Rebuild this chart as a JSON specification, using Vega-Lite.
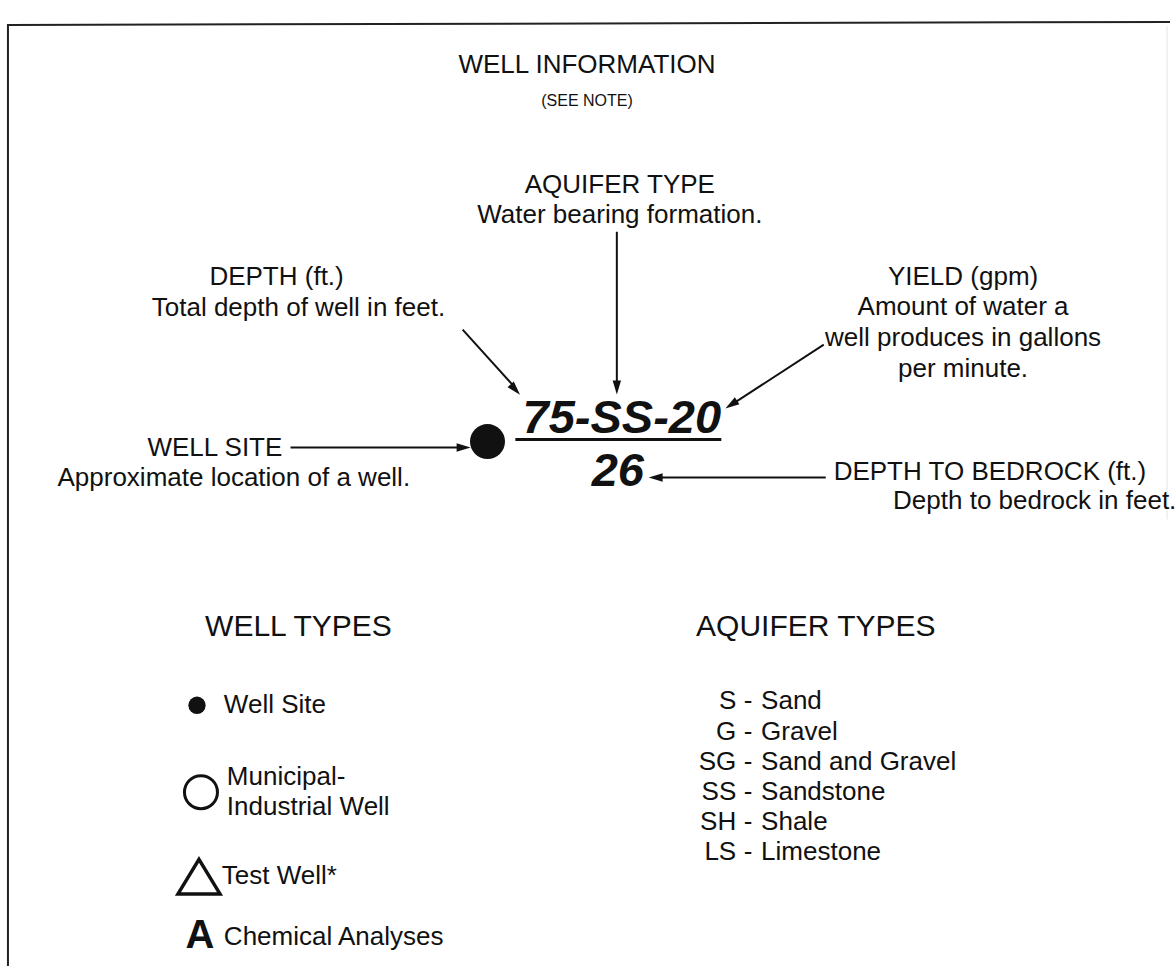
{
  "$schema": "https://vega.github.io/schema/vega-lite/v6.json",
  "width": 1176,
  "height": 967,
  "autosize": {"type": "fit", "contains": "padding"},
  "padding": 0,
  "background": "white",
  "config": {"view": {"stroke": null}},
  "datasets": {
    "border": [
      {"x": 8, "y": 25, "x2": 1176, "y2": 22},
      {"x": 8, "y": 24, "x2": 8, "y2": 967}
    ],
    "faint": [
      {"x": 1173, "y": 26, "x2": 1173, "y2": 520}
    ],
    "arrows": [
      {"x": 620, "y": 232, "x2": 620, "y2": 383},
      {"x": 465, "y": 330, "x2": 515, "y2": 385},
      {"x": 828, "y": 345, "x2": 740, "y2": 402},
      {"x": 292, "y": 448, "x2": 462, "y2": 448},
      {"x": 664, "y": 478, "x2": 830, "y2": 478}
    ],
    "underline": [
      {"x": 518, "y": 440, "x2": 725, "y2": 440}
    ],
    "heads": [
      {"x": 620, "y": 388, "a": 180},
      {"x": 518, "y": 390, "a": 138},
      {"x": 735, "y": 405, "a": 237},
      {"x": 466, "y": 448, "a": 90},
      {"x": 659, "y": 478, "a": 270}
    ],
    "titles": [
      {"x": 590, "y": 65, "t": "WELL INFORMATION"}
    ],
    "sections": [
      {"x": 300, "y": 628, "t": "WELL TYPES"},
      {"x": 820, "y": 628, "t": "AQUIFER TYPES"}
    ],
    "note": [
      {"x": 590, "y": 101, "t": "(SEE NOTE)"}
    ],
    "center": [
      {"x": 623, "y": 185, "t": "AQUIFER TYPE"},
      {"x": 623, "y": 215, "t": "Water bearing formation."},
      {"x": 278, "y": 277, "t": "DEPTH (ft.)"},
      {"x": 300, "y": 308, "t": "Total depth of well in feet."},
      {"x": 968, "y": 277, "t": "YIELD (gpm)"},
      {"x": 968, "y": 307, "t": "Amount of water a"},
      {"x": 968, "y": 338, "t": "well produces in gallons"},
      {"x": 968, "y": 369, "t": "per minute."},
      {"x": 216, "y": 448, "t": "WELL SITE"},
      {"x": 235, "y": 478, "t": "Approximate location of a well."},
      {"x": 995, "y": 472, "t": "DEPTH TO BEDROCK (ft.)"},
      {"x": 1040, "y": 502, "t": "Depth to bedrock in feet."}
    ],
    "big": [
      {"x": 625, "y": 419, "t": "75-SS-20"},
      {"x": 621, "y": 472, "t": "26"}
    ],
    "legendText": [
      {"x": 225, "y": 706, "t": "Well Site"},
      {"x": 228, "y": 778, "t": "Municipal-"},
      {"x": 228, "y": 808, "t": "Industrial Well"},
      {"x": 223, "y": 877, "t": "Test Well*"},
      {"x": 225, "y": 938, "t": "Chemical Analyses"}
    ],
    "codes": [
      {"x": 740, "y": 702, "t": "S"},
      {"x": 740, "y": 733, "t": "G"},
      {"x": 740, "y": 763, "t": "SG"},
      {"x": 740, "y": 793, "t": "SS"},
      {"x": 740, "y": 823, "t": "SH"},
      {"x": 740, "y": 853, "t": "LS"}
    ],
    "dashes": [
      {"x": 752, "y": 702, "t": "-"},
      {"x": 752, "y": 733, "t": "-"},
      {"x": 752, "y": 763, "t": "-"},
      {"x": 752, "y": 793, "t": "-"},
      {"x": 752, "y": 823, "t": "-"},
      {"x": 752, "y": 853, "t": "-"}
    ],
    "names": [
      {"x": 765, "y": 702, "t": "Sand"},
      {"x": 765, "y": 733, "t": "Gravel"},
      {"x": 765, "y": 763, "t": "Sand and Gravel"},
      {"x": 765, "y": 793, "t": "Sandstone"},
      {"x": 765, "y": 823, "t": "Shale"},
      {"x": 765, "y": 853, "t": "Limestone"}
    ],
    "bigDot": [{"x": 490, "y": 442}],
    "smallDot": [{"x": 198, "y": 706}],
    "ring": [{"x": 202, "y": 793}],
    "tri": [{"x": 200, "y": 877}],
    "letterA": [{"x": 201, "y": 937, "t": "A"}]
  },
  "encoding": {
    "x": {"field": "x", "type": "quantitative", "scale": {"domain": [0, 1176], "nice": false, "zero": false}, "axis": null},
    "y": {"field": "y", "type": "quantitative", "scale": {"domain": [0, 967], "nice": false, "zero": false, "reverse": true}, "axis": null}
  },
  "layer": [
    {
      "data": {"name": "border"},
      "mark": {"type": "rule", "strokeWidth": 2, "color": "#222"},
      "encoding": {"x2": {"field": "x2"}, "y2": {"field": "y2"}}
    },
    {
      "data": {"name": "faint"},
      "mark": {"type": "rule", "strokeWidth": 1, "color": "#e4e4e4"},
      "encoding": {"x2": {"field": "x2"}, "y2": {"field": "y2"}}
    },
    {
      "data": {"name": "arrows"},
      "mark": {"type": "rule", "strokeWidth": 2, "color": "#111"},
      "encoding": {"x2": {"field": "x2"}, "y2": {"field": "y2"}}
    },
    {
      "data": {"name": "underline"},
      "mark": {"type": "rule", "strokeWidth": 3, "color": "#111"},
      "encoding": {"x2": {"field": "x2"}, "y2": {"field": "y2"}}
    },
    {
      "data": {"name": "heads"},
      "mark": {"type": "point", "shape": "M0,-1L0.6,1L-0.6,1Z", "filled": true, "size": 196, "color": "#111", "opacity": 1},
      "encoding": {"angle": {"field": "a", "type": "quantitative", "scale": null}}
    },
    {
      "data": {"name": "titles"},
      "mark": {"type": "text", "font": "Liberation Sans", "fontSize": 26, "color": "#111", "align": "center", "baseline": "middle"},
      "encoding": {"text": {"field": "t"}}
    },
    {
      "data": {"name": "sections"},
      "mark": {"type": "text", "font": "Liberation Sans", "fontSize": 30, "color": "#111", "align": "center", "baseline": "middle"},
      "encoding": {"text": {"field": "t"}}
    },
    {
      "data": {"name": "note"},
      "mark": {"type": "text", "font": "Liberation Sans", "fontSize": 16, "color": "#111", "align": "center", "baseline": "middle"},
      "encoding": {"text": {"field": "t"}}
    },
    {
      "data": {"name": "center"},
      "mark": {"type": "text", "font": "Liberation Sans", "fontSize": 26, "color": "#111", "align": "center", "baseline": "middle"},
      "encoding": {"text": {"field": "t"}}
    },
    {
      "data": {"name": "big"},
      "mark": {"type": "text", "font": "Liberation Sans", "fontSize": 47, "fontWeight": "bold", "fontStyle": "italic", "color": "#111", "align": "center", "baseline": "middle"},
      "encoding": {"text": {"field": "t"}}
    },
    {
      "data": {"name": "legendText"},
      "mark": {"type": "text", "font": "Liberation Sans", "fontSize": 26, "color": "#111", "align": "left", "baseline": "middle"},
      "encoding": {"text": {"field": "t"}}
    },
    {
      "data": {"name": "codes"},
      "mark": {"type": "text", "font": "Liberation Sans", "fontSize": 26, "color": "#111", "align": "right", "baseline": "middle"},
      "encoding": {"text": {"field": "t"}}
    },
    {
      "data": {"name": "dashes"},
      "mark": {"type": "text", "font": "Liberation Sans", "fontSize": 26, "color": "#111", "align": "center", "baseline": "middle"},
      "encoding": {"text": {"field": "t"}}
    },
    {
      "data": {"name": "names"},
      "mark": {"type": "text", "font": "Liberation Sans", "fontSize": 26, "color": "#111", "align": "left", "baseline": "middle"},
      "encoding": {"text": {"field": "t"}}
    },
    {
      "data": {"name": "bigDot"},
      "mark": {"type": "point", "shape": "circle", "filled": true, "size": 1225, "color": "#111", "opacity": 1}
    },
    {
      "data": {"name": "smallDot"},
      "mark": {"type": "point", "shape": "circle", "filled": true, "size": 300, "color": "#111", "opacity": 1}
    },
    {
      "data": {"name": "ring"},
      "mark": {"type": "point", "shape": "circle", "filled": false, "size": 1089, "strokeWidth": 3, "color": "#111", "opacity": 1}
    },
    {
      "data": {"name": "tri"},
      "mark": {"type": "point", "shape": "M0,-0.8L1,0.85L-1,0.85Z", "filled": false, "size": 1764, "strokeWidth": 3.5, "color": "#111", "opacity": 1}
    },
    {
      "data": {"name": "letterA"},
      "mark": {"type": "text", "font": "Liberation Sans", "fontSize": 40, "fontWeight": "bold", "color": "#111", "align": "center", "baseline": "middle"},
      "encoding": {"text": {"field": "t"}}
    }
  ]
}
